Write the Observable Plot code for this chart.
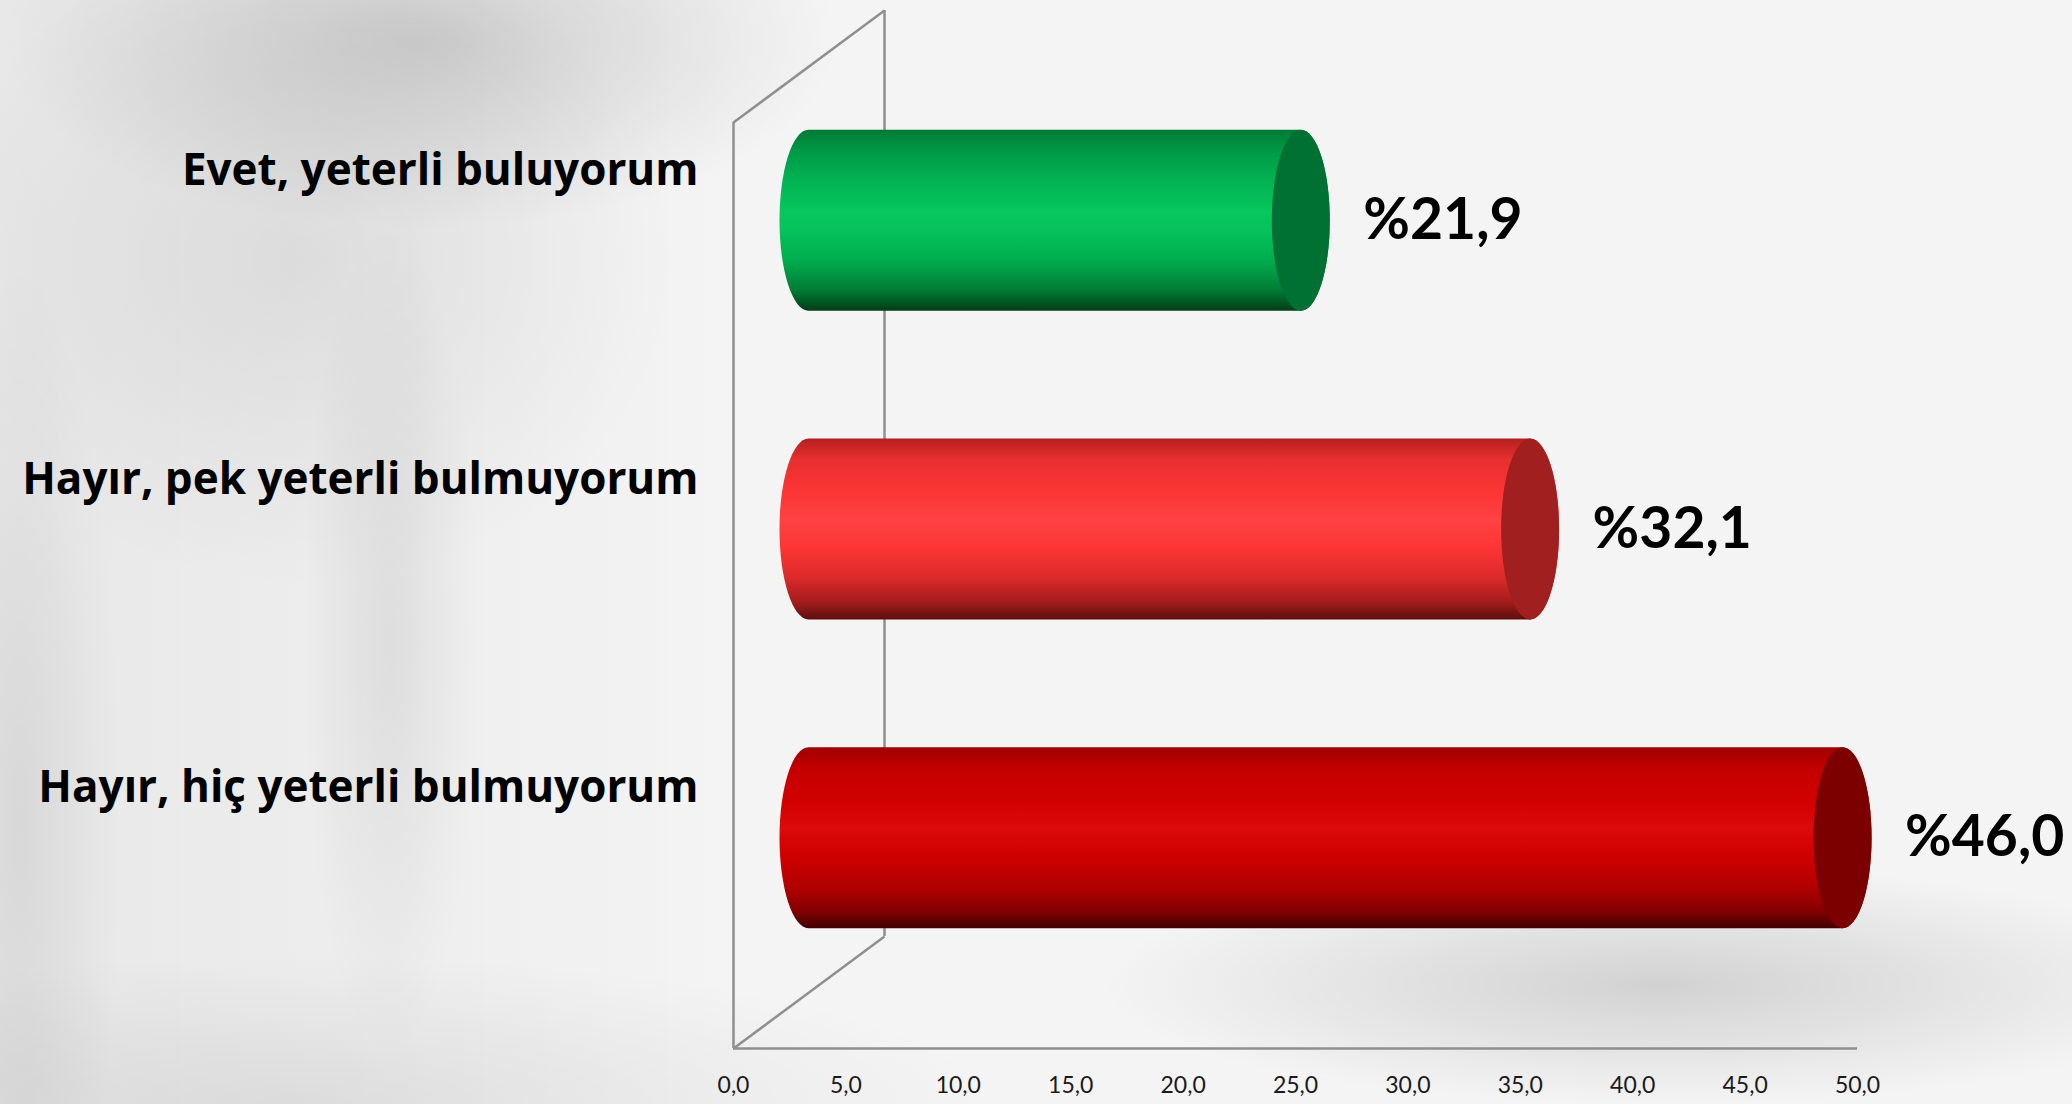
<!DOCTYPE html>
<html>
<head>
<meta charset="utf-8">
<script src="https://cdn.jsdelivr.net/npm/d3@7"></script>
<script src="https://cdn.jsdelivr.net/npm/@observablehq/plot@0.6"></script>
<style>
  html, body { margin: 0; padding: 0; width: 2072px; height: 1104px; overflow: hidden; }
  body {
    background-color: #f4f4f4;
    background-image:
      radial-gradient(ellipse 560px 120px at 1660px 985px, rgba(0,0,0,0.14), rgba(0,0,0,0) 100%),
      radial-gradient(ellipse 420px 190px at 420px 40px, rgba(0,0,0,0.15), rgba(0,0,0,0) 100%),
      radial-gradient(ellipse 380px 330px at 300px 260px, rgba(0,0,0,0.07), rgba(0,0,0,0) 100%),
      radial-gradient(ellipse 90px 420px at 390px 640px, rgba(0,0,0,0.07), rgba(0,0,0,0) 100%),
      radial-gradient(ellipse 100px 560px at 20px 820px, rgba(0,0,0,0.07), rgba(0,0,0,0) 100%),
      radial-gradient(ellipse 700px 150px at 300px 1104px, rgba(0,0,0,0.07), rgba(0,0,0,0) 100%),
      linear-gradient(90deg, rgba(0,0,0,0.05) 0px, rgba(0,0,0,0) 760px);
  }
  #chart svg { display: block; }
</style>
</head>
<body>
<div id="chart"></div>
<script>
// ---- Data ----
const categories = [
  "Evet, yeterli buluyorum",
  "Hayır, pek yeterli bulmuyorum",
  "Hayır, hiç yeterli bulmuyorum"
];
const values = [21.9, 32.1, 46.0];
const xTicks = [0, 5, 10, 15, 20, 25, 30, 35, 40, 45, 50];
const xDomain = [0, 50];

// ---- Layout / style ----
const W = 2072, H = 1104;
const M = {left: 733, right: 215, top: 122, bottom: 56};
const n = categories.length;
const plotW = W - M.left - M.right;
const plotH = H - M.top - M.bottom;
const depthPx = {dx: 151, dy: -112};          // 3-D depth of the wall
const depthX = depthPx.dx / (plotW / (xDomain[1] - xDomain[0]));
const depthY = -depthPx.dy / (plotH / n);
const cylHalfPx = 90.5;                       // half height of a cylinder
const cylHalf = cylHalfPx / (plotH / n);
const capRx = 29;                             // half width of end ellipse
const midDx = depthPx.dx / 2, midDy = depthPx.dy / 2;
const gridColor = "#8f8f8f";
const fills = [
  {id: "g0", stops: [[0, "#007a35"], [0.12, "#009a47"], [0.3, "#02b554"], [0.45, "#07c75d"], [0.55, "#06c35b"], [0.72, "#00ad4e"], [0.88, "#007e35"], [1, "#003c16"]], cap: "#007033"},
  {id: "g1", stops: [[0, "#b51f1f"], [0.12, "#e83030"], [0.3, "#fd3535"], [0.45, "#ff4242"], [0.6, "#fe3535"], [0.78, "#d82929"], [0.9, "#a51c1c"], [1, "#5c0e0e"]], cap: "#a11f1f"},
  {id: "g2", stops: [[0, "#a00000"], [0.12, "#c40000"], [0.3, "#d20000"], [0.45, "#dc0a0a"], [0.6, "#cf0000"], [0.78, "#b00000"], [0.9, "#860000"], [1, "#400000"]], cap: "#7d0000"}
];
const fmt = v => v.toFixed(1).replace(".", ",");

const rows = categories.map((c, i) => ({category: c, value: values[i], yc: n - i - 0.5}));

const font = "Lato, 'Open Sans', sans-serif";

const barMarks = rows.flatMap((r, i) => [
  Plot.rect([r], {
    x1: 0, x2: "value",
    y1: d => d.yc - cylHalf, y2: d => d.yc + cylHalf,
    dx: midDx, dy: midDy,
    insetLeft: -capRx, insetRight: -capRx,
    rx: capRx, ry: cylHalfPx,
    fill: `url(#${fills[i].id})`
  }),
  Plot.rect([r], {
    x1: "value", x2: "value",
    y1: d => d.yc - cylHalf, y2: d => d.yc + cylHalf,
    dx: midDx, dy: midDy,
    insetLeft: -capRx, insetRight: -capRx,
    rx: capRx, ry: cylHalfPx,
    fill: fills[i].cap
  })
]);

const chart = Plot.plot({
  width: W, height: H,
  marginLeft: M.left, marginRight: M.right, marginTop: M.top, marginBottom: M.bottom,
  style: {background: "transparent", fontFamily: font, fontSize: "23px", color: "#1a1a1a", overflow: "visible"},
  x: {domain: xDomain, ticks: xTicks, tickFormat: fmt, tickSize: 0, tickPadding: 28, label: null},
  y: {domain: [0, n], axis: null},
  marks: [
    // back wall vertical
    Plot.ruleX([depthX], {y1: depthY, y2: n + depthY, stroke: gridColor, strokeWidth: 2.5}),
    // top and bottom depth diagonals
    Plot.link([0, n], {x1: 0, y1: d => d, x2: depthX, y2: d => d + depthY, stroke: gridColor, strokeWidth: 2.5}),
    // front left vertical
    Plot.ruleX([0], {y1: 0, y2: n, stroke: gridColor, strokeWidth: 2.5}),
    // front bottom base line
    Plot.ruleY([0], {x1: xDomain[0], x2: xDomain[1], stroke: gridColor, strokeWidth: 2.5}),
    ...barMarks,
    // value labels
    Plot.text(rows, {
      x: "value", y: "yc", text: d => "%" + fmt(d.value),
      dx: midDx + capRx + 33, dy: midDy,
      textAnchor: "start", fontSize: 57, fontWeight: "bold", fill: "#000"
    }),
    // category labels
    Plot.text(rows, {
      x: 0, y: "yc", text: "category",
      dx: -35, dy: -106,
      textAnchor: "end", fontSize: 44, fontWeight: "bold", fill: "#000",
      fontFamily: "'Open Sans', Lato, sans-serif"
    })
  ]
});

// gradients for the cylinders
const defs = d3.select(chart).insert("defs", ":first-child");
fills.forEach(f => {
  const g = defs.append("linearGradient").attr("id", f.id)
    .attr("x1", 0).attr("y1", 0).attr("x2", 0).attr("y2", 1);
  f.stops.forEach(([o, c]) => g.append("stop").attr("offset", o).attr("stop-color", c));
});

document.getElementById("chart").append(chart);
</script>
</body>
</html>
